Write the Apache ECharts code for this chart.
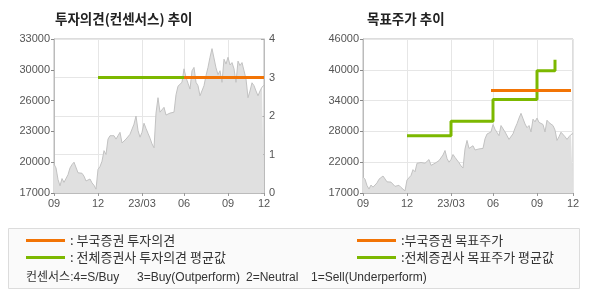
<!DOCTYPE html>
<html><head><meta charset="utf-8">
<script src="https://cdn.jsdelivr.net/npm/echarts@6/dist/echarts.min.js"></script>
<style>html,body{margin:0;padding:0;background:#fff}#c{width:590px;height:300px}</style>
</head><body><div id="c"></div>
<script>
// ---- data ----
const xTickIdx = [0, 22, 44, 65, 87, 105];
const xTickLabels = ['09', '12', '23/03', '06', '09', '12'];
const price = [20000,19600,18400,17750,18500,18100,17950,18900,19600,19950,
  20200,20000,19100,18950,19050,18750,18250,18150,18450,18050,
  17800,17400,19450,19750,20300,21400,21000,22600,22950,22750,
  22950,22600,22950,23300,22200,22050,22600,22750,23100,23300,
  24150,25000,23500,22800,23300,24250,23700,23200,22700,22100,
  21700,25300,26900,25400,25600,25900,25100,25100,25300,25500,
  25400,27200,28100,27900,28500,29900,29000,28400,27800,29700,
  30050,28500,28150,27100,26900,28150,29200,30050,31100,32000,
  32150,30000,29300,29700,28500,30900,30400,31100,30300,30550,
  29900,28500,30700,30250,30550,29700,28850,26900,27600,28450,
  28150,27600,27100,27600,28000,28200];
const leftPriceLabels = ['17000', '20000', '23000', '26000', '30000', '33000'];
const opinionLabels = ['0', '1', '2', '3', '4'];
const rightPriceLabels = ['17000', '22000', '28000', '34000', '40000', '46000'];
// opinion: [startIdx, endIdx, value]
const opinionBK = [65, 105, 3];
const opinionAvg = [22, 65, 3];
// target prices: [idx, value] change points
const targetBK = [[64, 36300], [104, 36300]];
const targetAvg = [[22, 27800], [44, 30500], [65, 34600], [87, 40000], [96, 42100]];
const consensusTexts = ['컨센서스:4=S/Buy', '3=Buy(Outperform)', '2=Neutral', '1=Sell(Underperform)'];

const ORANGE = '#f27405', GREEN = '#7cb800';
const cats = price.map((_, i) => String(i));
const isTick = (i) => xTickIdx.indexOf(i) >= 0;
const fontLat = 'Liberation Sans, Arial, sans-serif';
const fontKr = '"Noto Sans CJK KR", sans-serif';
const consFont = '12px "Liberation Sans", "Noto Sans CJK KR", sans-serif';

function xAxisFor(gi) {
  return {
    type: 'category', gridIndex: gi, data: cats, boundaryGap: false,
    axisLine: {show: true, lineStyle: {color: '#bbb'}},
    axisTick: {show: true, length: 3, interval: (i) => isTick(i), lineStyle: {color: '#999'}},
    axisLabel: {interval: (i) => isTick(i), color: '#555', fontSize: 11, fontFamily: fontLat, margin: 5,
      formatter: (v, i) => xTickLabels[xTickIdx.indexOf(Number(v))]},
    splitLine: {show: true, interval: (i) => isTick(i), lineStyle: {color: '#e6e6e6'}}
  };
}

const opt = {
  animation: false,
  grid: [
    {left: 54, right: 326, top: 39, bottom: 107, show: true, borderColor: '#bbb', borderWidth: 1, backgroundColor: '#fff'},
    {left: 363, right: 17, top: 39, bottom: 107, show: true, borderColor: '#bbb', borderWidth: 1, backgroundColor: '#fff'}
  ],
  xAxis: [xAxisFor(0), xAxisFor(1)],
  yAxis: [
    {type: 'value', gridIndex: 0, min: 17000, max: 33000, interval: 3200, position: 'left',
      axisLine: {show: true, lineStyle: {color: '#bbb'}},
      axisTick: {show: true, length: 3, lineStyle: {color: '#888'}},
      axisLabel: {color: '#555', fontSize: 11, fontFamily: fontLat, margin: 4,
        formatter: (v) => leftPriceLabels[Math.round((v - 17000) / 3200)]},
      splitLine: {show: false}},
    {type: 'value', gridIndex: 0, min: 0, max: 4, interval: 1, position: 'right',
      axisLine: {show: true, lineStyle: {color: '#bbb'}},
      axisTick: {show: true, inside: true, length: 3, lineStyle: {color: '#aaa'}},
      axisLabel: {color: '#555', fontSize: 11, fontFamily: fontLat, margin: 5,
        formatter: (v) => opinionLabels[Math.round(v)]},
      splitLine: {show: true, lineStyle: {color: '#e6e6e6'}}},
    {type: 'value', gridIndex: 1, min: 17000, max: 46000, interval: 5800, position: 'left',
      axisLine: {show: true, lineStyle: {color: '#bbb'}},
      axisTick: {show: true, length: 3, lineStyle: {color: '#888'}},
      axisLabel: {color: '#555', fontSize: 11, fontFamily: fontLat, margin: 4,
        formatter: (v) => rightPriceLabels[Math.round((v - 17000) / 5800)]},
      splitLine: {show: true, lineStyle: {color: '#e6e6e6'}}}
  ],
  legend: [
    {left: 26, top: 232, orient: 'vertical', itemWidth: 39, itemHeight: 3, itemGap: 0, padding: 0, icon: 'rect',
      selectedMode: false,
      data: ['부국증권 투자의견', '전체증권사 투자의견 평균값'], formatter: ': {name}',
      textStyle: {color: '#333', fontSize: 13, fontFamily: fontKr, lineHeight: 17}},
    {left: 357, top: 232, orient: 'vertical', itemWidth: 39, itemHeight: 3, itemGap: 0, padding: 0, icon: 'rect',
      selectedMode: false,
      data: ['부국증권 목표주가', '전체증권사 목표주가 평균값'], formatter: ':{name}',
      textStyle: {color: '#333', fontSize: 13, fontFamily: fontKr, lineHeight: 17}}
  ],
  graphic: [
    {type: 'rect', left: 8, top: 228, z: -10, shape: {width: 571, height: 60},
      style: {fill: '#fafafa', stroke: '#dcdcdc', lineWidth: 1}},
    {type: 'text', left: 55, top: 12, style: {text: '투자의견(컨센서스) 추이', font: 'bold 13.5px "Noto Sans CJK KR"', fill: '#222'}},
    {type: 'text', left: 367, top: 12, style: {text: '목표주가 추이', font: 'bold 13.5px "Noto Sans CJK KR"', fill: '#222'}},
    {type: 'text', left: 26, top: 272, style: {text: consensusTexts[0], font: consFont, fill: '#333'}},
    {type: 'text', left: 137, top: 272, style: {text: consensusTexts[1], font: consFont, fill: '#333'}},
    {type: 'text', left: 246, top: 272, style: {text: consensusTexts[2], font: consFont, fill: '#333'}},
    {type: 'text', left: 311, top: 272, style: {text: consensusTexts[3], font: consFont, fill: '#333'}}
  ],
  series: [
    {type: 'line', name: '주가', xAxisIndex: 0, yAxisIndex: 0, data: price, symbol: 'none', z: 1,
      lineStyle: {color: '#c2c2c2', width: 1}, areaStyle: {color: '#e0e0e0', opacity: 1}},
    {type: 'line', name: '전체증권사 투자의견 평균값', xAxisIndex: 0, yAxisIndex: 1, symbol: 'none', z: 3,
      color: GREEN, lineStyle: {color: GREEN, width: 3},
      data: [[opinionAvg[0], opinionAvg[2]], [opinionAvg[1], opinionAvg[2]]]},
    {type: 'line', name: '부국증권 투자의견', xAxisIndex: 0, yAxisIndex: 1, symbol: 'none', z: 4,
      color: ORANGE, lineStyle: {color: ORANGE, width: 3},
      data: [[opinionBK[0], opinionBK[2]], [opinionBK[1], opinionBK[2]]]},
    {type: 'line', name: '주가2', xAxisIndex: 1, yAxisIndex: 2, data: price, symbol: 'none', z: 1,
      lineStyle: {color: '#c2c2c2', width: 1}, areaStyle: {color: '#e0e0e0', opacity: 1}},
    {type: 'line', name: '전체증권사 목표주가 평균값', xAxisIndex: 1, yAxisIndex: 2, symbol: 'none', z: 3,
      step: 'end', color: GREEN, lineStyle: {color: GREEN, width: 3}, data: targetAvg},
    {type: 'line', name: '부국증권 목표주가', xAxisIndex: 1, yAxisIndex: 2, symbol: 'none', z: 4,
      color: ORANGE, lineStyle: {color: ORANGE, width: 3}, data: targetBK}
  ]
};
const chart = echarts.init(document.getElementById('c'), null, {renderer: 'canvas'});
chart.setOption(opt);
</script></body></html>
